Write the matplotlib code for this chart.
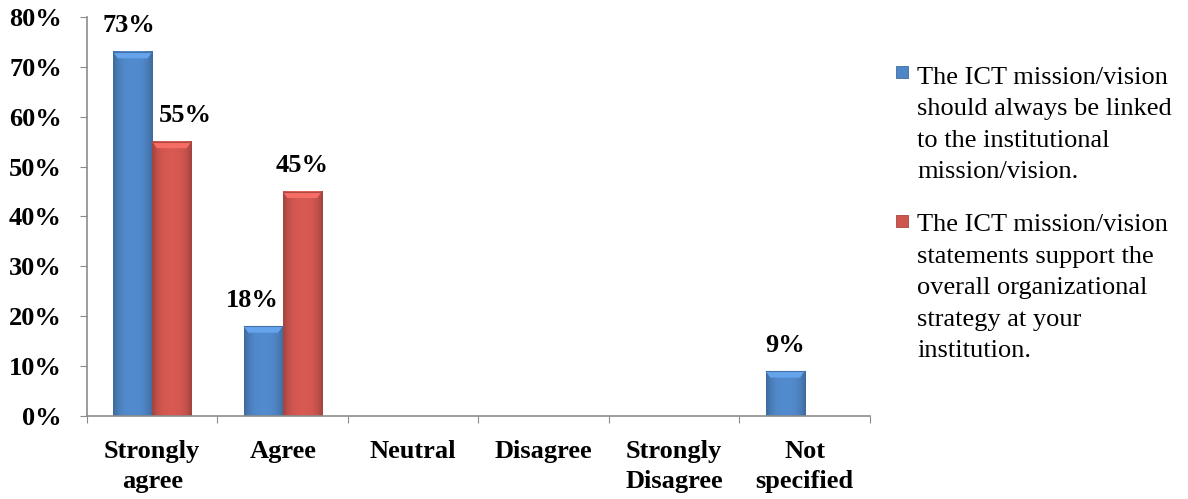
import numpy as np
import matplotlib.pyplot as plt
from matplotlib.colors import to_rgb
from matplotlib.patches import Rectangle

plt.rcParams['font.family'] = ['Liberation Serif', 'DejaVu Serif']

categories = ['Strongly\nagree', 'Agree', 'Neutral', 'Disagree', 'Strongly\nDisagree', 'Not\nspecified']
linked = [73, 18, 0, 0, 0, 9]
support = [55, 45, 0, 0, 0, 0]
series_names = [
    'The ICT mission/vision\nshould always be linked\nto the institutional\nmission/vision.',
    'The ICT mission/vision\nstatements support the\noverall organizational\nstrategy at your\ninstitution.',
]
colors = ['#4f86c6', '#cf564f']
yticks = [0, 10, 20, 30, 40, 50, 60, 70, 80]

# sideways nudges (points) so neighbouring value labels don't collide
nudge_linked = [-3, -8, 0, 0, 0, 0]
nudge_support = [10, 0, 0, 0, 0, 0]


def shaded_bar(ax, x0, w, h, color):
    # cylinder-like shading: darker edges, lighter middle
    base = np.array(to_rgb(color))
    t = np.linspace(-1, 1, 80)
    k = 1.0 - 0.22 * np.abs(t) ** 3 + 0.04 * (1 - t ** 2)
    row = np.clip(base[None, :] * k[:, None], 0, 1)
    img = np.repeat(row[None, :, :], 2, axis=0)
    ax.imshow(img, extent=(x0, x0 + w, 0, h), aspect='auto', zorder=2,
              interpolation='bilinear')
    # bevelled top
    cap = min(1.3, h * 0.3)
    light = np.clip(base * 1.12 + 0.05, 0, 1)
    dark = base * 0.85
    ax.fill([x0, x0 + w, x0 + w * 0.88, x0 + w * 0.12],
            [h, h, h - cap, h - cap], color=light, zorder=3, lw=0)
    ax.plot([x0, x0 + w], [h, h], color=dark, lw=0.8, zorder=3)


fig = plt.figure(figsize=(11.88, 4.99), dpi=100)
ax = fig.add_axes([0.0732, 0.1663, 0.6591, 0.7997])

x = np.arange(len(categories))
w = 0.3
for vals, col, off, nudge in [(linked, colors[0], -w, nudge_linked),
                              (support, colors[1], 0, nudge_support)]:
    for xi, v, dx in zip(x, vals, nudge):
        if v <= 0:
            continue
        shaded_bar(ax, xi + 0.5 + off, w, v, col)
        ax.annotate(f'{v}%', (xi + 0.5 + off + w / 2, v),
                    xytext=(dx, 14), textcoords='offset points', ha='center',
                    va='baseline', fontsize=19, fontweight='bold')

ax.set_xlim(0, len(categories))
ax.set_ylim(0, 80)
ax.set_yticks(yticks)
ax.set_yticklabels([f'{t}%' for t in yticks], fontsize=19, fontweight='bold')
ax.set_xticks(np.arange(len(categories) + 1))
ax.set_xticklabels([])
ax.set_xticks(x + 0.5, minor=True)
ax.set_xticklabels(categories, minor=True, fontsize=19, fontweight='bold',
                   linespacing=1.42)
ax.tick_params(axis='x', which='minor', length=0, pad=17)
ax.tick_params(axis='x', which='major', length=5, color='#8c8c8c')
ax.tick_params(axis='y', length=5, color='#8c8c8c', pad=13)
for s in ['top', 'right']:
    ax.spines[s].set_visible(False)
for s in ['left', 'bottom']:
    ax.spines[s].set_color('#8c8c8c')
    ax.spines[s].set_linewidth(1.2)

# legend: square key next to the first line of each wrapped entry
for name, col, ytop, ykey in zip(series_names, colors, [0.866, 0.571], [0.8437, 0.546]):
    fig.patches.append(Rectangle((0.7542, ykey), 0.0101, 0.024,
                                 transform=fig.transFigure, facecolor=col,
                                 edgecolor=np.array(to_rgb(col)) * 0.8, lw=0.6))
    fig.text(0.772, ytop, name, ha='left', va='top', fontsize=19,
             linespacing=1.56)

fig.savefig('out.png', dpi=100)
